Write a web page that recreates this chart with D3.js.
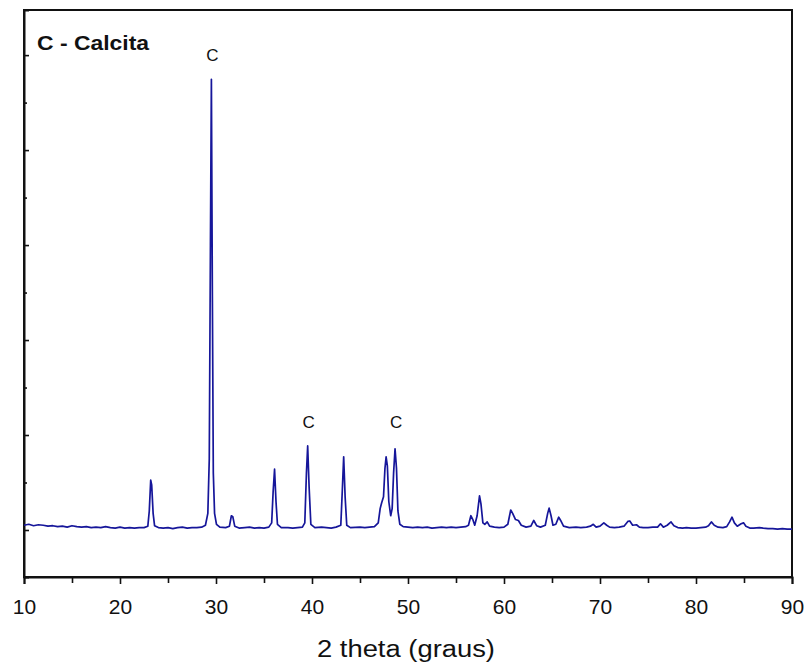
<!DOCTYPE html>
<html>
<head>
<meta charset="utf-8">
<script src="https://cdn.jsdelivr.net/npm/d3@7"></script>
<style>
  body { margin: 0; background: #fff; }
  svg text { font-family: "Liberation Sans", Arial, sans-serif; fill: #111; }
</style>
</head>
<body>
<div id="chart"></div>
<script>
// XRD scan: [2 theta, intensity (arb. units)]
let scan = [
  [10.0,0.10],[10.5,0.12],[11,0.09],[11.5,0.11],[12,0.10],[12.5,0.08],[13,0.09],[13.5,0.07],
  [14,0.08],[14.5,0.06],[15,0.09],[15.5,0.07],[16,0.06],[16.5,0.07],[17,0.05],[17.5,0.06],
  [18,0.05],[18.5,0.07],[19,0.05],[19.5,0.04],[20,0.06],[20.5,0.04],[21,0.05],[21.5,0.04],
  [22,0.05],[22.5,0.05],[22.9,0.08],[23.05,0.4],[23.2,1.05],[23.3,0.95],[23.45,0.35],[23.6,0.09],
  [24,0.05],[24.5,0.04],[25,0.05],[25.5,0.03],[26,0.05],[26.5,0.06],[27,0.04],[27.5,0.05],
  [28,0.05],[28.5,0.06],[28.9,0.1],[29.15,0.35],[29.3,1.5],[29.42,6.0],[29.52,9.49],[29.62,5.0],
  [29.72,1.2],[29.85,0.35],[30.05,0.12],[30.4,0.06],[31,0.05],[31.4,0.08],[31.6,0.30],[31.75,0.28],
  [31.95,0.08],[32.4,0.04],[33,0.05],[33.5,0.06],[34,0.04],[34.5,0.05],[35,0.04],[35.5,0.06],
  [35.8,0.15],[35.95,0.8],[36.1,1.28],[36.25,0.6],[36.4,0.12],[36.8,0.05],[37.5,0.05],[38,0.04],
  [38.5,0.05],[39,0.06],[39.25,0.15],[39.42,1.2],[39.55,1.77],[39.7,0.9],[39.88,0.12],[40.3,0.05],
  [41,0.06],[41.5,0.05],[42,0.04],[42.5,0.06],[43,0.1],[43.15,0.8],[43.3,1.54],[43.45,0.7],
  [43.62,0.1],[44,0.05],[45,0.06],[45.5,0.05],[46,0.06],[46.5,0.07],[46.9,0.15],[47.1,0.45],
  [47.25,0.57],[47.45,0.7],[47.6,1.3],[47.72,1.54],[47.85,1.35],[48.0,0.6],[48.2,0.3],[48.35,0.45],
  [48.5,1.2],[48.65,1.71],[48.8,1.3],[48.95,0.4],[49.15,0.12],[49.5,0.07],[50,0.06],[50.5,0.05],
  [51,0.06],[51.5,0.05],[52,0.06],[52.5,0.04],[53,0.05],[53.5,0.06],[54,0.05],[54.5,0.06],
  [55,0.05],[55.5,0.06],[56,0.07],[56.3,0.1],[56.55,0.3],[56.75,0.22],[56.95,0.1],[57.2,0.3],
  [57.45,0.72],[57.6,0.55],[57.8,0.15],[58.0,0.12],[58.25,0.17],[58.5,0.08],[59,0.06],[59.5,0.05],
  [60,0.06],[60.4,0.12],[60.7,0.42],[60.9,0.35],[61.2,0.22],[61.5,0.2],[61.8,0.1],[62.3,0.06],
  [62.8,0.08],[63.1,0.2],[63.4,0.09],[63.8,0.06],[64.3,0.1],[64.55,0.35],[64.7,0.46],[64.9,0.3],
  [65.1,0.1],[65.4,0.12],[65.7,0.27],[65.9,0.2],[66.2,0.08],[66.8,0.05],[67.5,0.06],[68,0.05],
  [68.6,0.06],[69.0,0.08],[69.3,0.12],[69.6,0.06],[70.0,0.08],[70.4,0.15],[70.7,0.1],[71.0,0.06],
  [71.5,0.05],[72,0.06],[72.5,0.08],[72.9,0.18],[73.1,0.19],[73.4,0.1],[73.8,0.11],[74.1,0.06],
  [74.5,0.05],[75,0.05],[75.5,0.06],[76,0.06],[76.3,0.13],[76.6,0.06],[77.0,0.1],[77.4,0.17],
  [77.7,0.09],[78.1,0.05],[78.6,0.04],[79,0.05],[79.5,0.04],[80,0.04],[80.5,0.05],[81,0.06],
  [81.3,0.09],[81.6,0.17],[81.9,0.1],[82.3,0.06],[82.8,0.05],[83.2,0.07],[83.5,0.17],[83.75,0.27],
  [84.0,0.15],[84.3,0.08],[84.7,0.13],[84.95,0.15],[85.2,0.08],[85.6,0.04],[86,0.04],[86.6,0.05],
  [87,0.04],[87.5,0.03],[88,0.03],[88.5,0.02],[89,0.03],[89.5,0.02],[90,0.02]
];

// calcite peaks that carry a "C" mark
let markedPeaks = [[29.52, 9.49], [39.55, 1.77], [48.65, 1.71]];

let xTicks = [10, 20, 30, 40, 50, 60, 70, 80, 90];
let xMinorTicks = [15, 25, 35, 45, 55, 65, 75, 85];
let yTicks = [0, 2, 4, 6, 8, 10];
let yMinorTicks = [1, 3, 5, 7, 9];

let legendText = "C - Calcita";
let xTitle = "2 theta (graus)";

// chart size
let svgWidth = 807;
let svgHeight = 668;

let margin = {
    top: 10,
    right: 15,
    bottom: 91,
    left: 24
}

let width = svgWidth - (margin.left + margin.right);
let height = svgHeight - (margin.top + margin.bottom);

let svg = d3.select("#chart")
.append("svg")
.attr("width", svgWidth)
.attr("height", svgHeight);

let chartGroup = svg.append("g")
.attr("transform", `translate(${margin.left}, ${margin.top})`);

let xScale = d3.scaleLinear()
.domain([10, 90])
.range([0, width]);

let yScale = d3.scaleLinear()
.domain([-0.99, 10.95])
.range([height, 0]);

// x axis, ticks pointing out
let bottomAxis = d3.axisBottom(xScale)
.tickValues(xTicks)
.tickSize(7)
.tickPadding(15)
.tickFormat(d3.format("d"));

let xAxis = chartGroup.append("g")
.attr("transform", `translate(0, ${height})`)
.call(bottomAxis);

xAxis.selectAll("text").attr("font-size", "21px");

chartGroup.append("g")
.attr("transform", `translate(0, ${height})`)
.call(d3.axisBottom(xScale).tickValues(xMinorTicks).tickSize(6).tickFormat(""))
.select(".domain").remove();

// y axis, ticks pointing in, no labels
let leftAxis = d3.axisLeft(yScale).tickValues(yTicks).tickSize(-5).tickFormat("");
let yAxis = chartGroup.append("g").call(leftAxis);

chartGroup.append("g")
.call(d3.axisLeft(yScale).tickValues(yMinorTicks).tickSize(-3).tickFormat(""))
.select(".domain").remove();

// frame
chartGroup.append("rect")
.attr("x", 0)
.attr("y", 0)
.attr("width", width)
.attr("height", height)
.attr("fill", "none")
.attr("stroke", "#111")
.attr("stroke-width", 2);

chartGroup.selectAll(".domain").attr("stroke", "#111").attr("stroke-width", 2);
chartGroup.selectAll(".tick line").attr("stroke", "#111").attr("stroke-width", 1.6);

// the scan
let line = d3.line()
.x(d => xScale(d[0]))
.y(d => yScale(d[1]));

chartGroup.append("path")
.datum(scan)
.attr("d", line)
.attr("fill", "none")
.attr("stroke", "#16169a")
.attr("stroke-width", 1.7)
.attr("stroke-linejoin", "round");

// peak marks
chartGroup.selectAll(".peakLabel")
.data(markedPeaks)
.enter()
.append("text")
.attr("class", "peakLabel")
.attr("x", d => xScale(d[0]) + 1)
.attr("y", (d, i) => i == 0 ? 51 : 418)
.attr("text-anchor", "middle")
.attr("font-size", "17px")
.text("C");

// legend text
chartGroup.append("text")
.attr("x", 13)
.attr("y", 40)
.attr("font-size", "21px")
.attr("font-weight", "bold")
.attr("textLength", 112)
.attr("lengthAdjust", "spacingAndGlyphs")
.text(legendText);

// x axis title
svg.append("text")
.attr("x", 317)
.attr("y", 657)
.attr("font-size", "23px")
.attr("textLength", 178)
.attr("lengthAdjust", "spacingAndGlyphs")
.text(xTitle);
</script>
</body>
</html>
